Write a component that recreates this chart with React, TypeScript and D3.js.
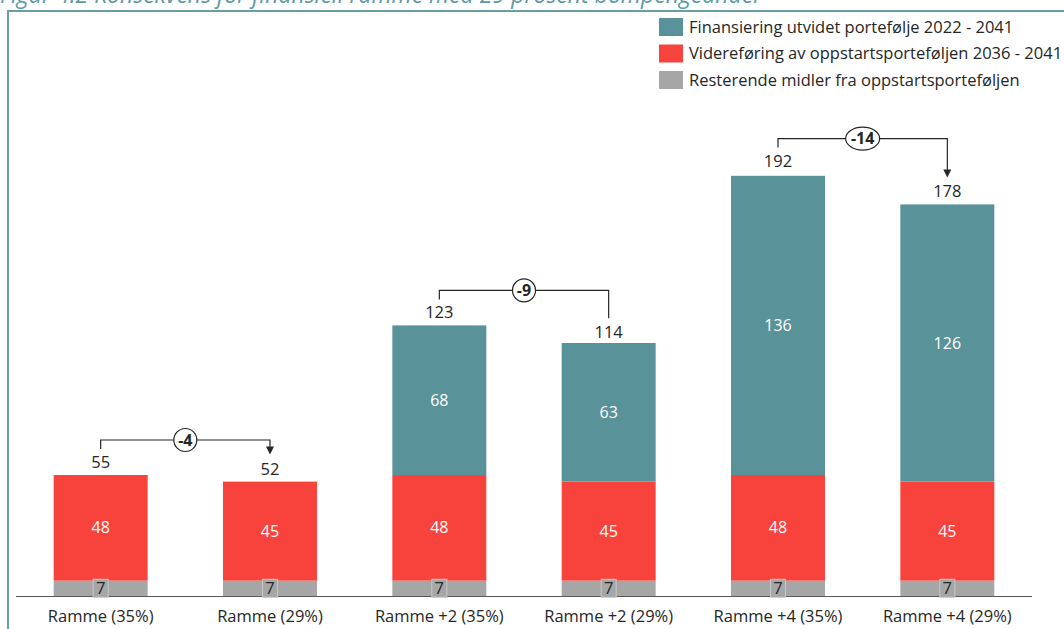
import React from "react";
import * as d3 from "d3";

const categories = [
  "Ramme (35%)",
  "Ramme (29%)",
  "Ramme +2 (35%)",
  "Ramme +2 (29%)",
  "Ramme +4 (35%)",
  "Ramme +4 (29%)",
];
const resterende = [7, 7, 7, 7, 7, 7];
const videreforing = [48, 45, 48, 45, 48, 45];
const finansiering = [0, 0, 68, 63, 136, 126];
const totals = [55, 52, 123, 114, 192, 178];

// pairs of bars compared by a bracket: [from, to, label, arrow]
const diffs: [number, number, string, boolean][] = [
  [0, 1, "-4", true],
  [2, 3, "-9", false],
  [4, 5, "-14", true],
];

const seriesNames = [
  "Finansiering utvidet portefølje 2022 - 2041",
  "Videreføring av oppstartsporteføljen 2036 - 2041",
  "Resterende midler fra oppstartsporteføljen",
];
const colors = ["#5a9299", "#f8433d", "#a6a6a6"];

const title = "Figur 4.2 Konsekvens for finansiell ramme med 29 prosent bompengeandel";

const width = 1064;
const height = 629;
const font = "'Open Sans', sans-serif";

export default function App() {
  const x = d3
    .scaleBand<string>()
    .domain(categories)
    .range([16, 1032])
    .paddingInner(0.445)
    .paddingOuter(0.2225);
  const y = d3.scaleLinear().domain([0, 200]).range([596, 156]);

  const stacks = categories.map((c, i) => {
    const segs = [
      { v: resterende[i], color: colors[2], kind: "grey" },
      { v: videreforing[i], color: colors[1], kind: "red" },
      { v: finansiering[i], color: colors[0], kind: "teal" },
    ];
    let acc = 0;
    return segs.map((s) => {
      const y0 = acc;
      acc += s.v;
      return { ...s, y0, y1: acc };
    });
  });

  const cx = (i: number) => (x(categories[i]) ?? 0) + x.bandwidth() / 2;

  return (
    <svg width={width} height={height} style={{ position: "absolute", left: 0, top: 0 }} fontFamily={font}>
      <rect width={width} height={height} fill="#fff" />
      <text x={0} y={3} fontSize={23} fontStyle="italic" fill="#5d9aa2">
        {title}
      </text>
      <line x1={7} x2={width} y1={11} y2={11} stroke="#6a9ea5" strokeWidth={2} />
      <line x1={8} x2={8} y1={10} y2={height} stroke="#6a9ea5" strokeWidth={2} />

      {/* legend */}
      {seriesNames.map((n, i) => (
        <g key={n} transform={`translate(659, ${18 + i * 26.5})`}>
          <rect width={24} height={18} fill={colors[i]} />
          <text x={30} y={9} dy="0.35em" fontSize={16.5} fill="#262626">
            {n}
          </text>
        </g>
      ))}

      {/* bars */}
      {stacks.map((segs, i) => (
        <g key={categories[i]}>
          {segs
            .filter((s) => s.v > 0)
            .map((s) => (
              <rect
                key={s.kind}
                x={x(categories[i])}
                y={y(s.y1)}
                width={x.bandwidth()}
                height={y(s.y0) - y(s.y1)}
                fill={s.color}
              />
            ))}
        </g>
      ))}

      <line x1={16} x2={1032} y1={y(0) + 0.5} y2={y(0) + 0.5} stroke="#595959" strokeWidth={1.2} />

      {/* segment labels */}
      {stacks.map((segs, i) =>
        segs
          .filter((s) => s.v > 0)
          .map((s) => {
            const my = (y(s.y0) + y(s.y1)) / 2;
            if (s.kind === "grey") {
              return (
                <g key={`l${i}${s.kind}`}>
                  <rect x={cx(i) - 7.5} y={my - 9} width={15} height={18} fill="#a6a6a6" stroke="#c8c8c8" strokeWidth={1} />
                  <text x={cx(i)} y={my} dy="0.35em" textAnchor="middle" fontSize={16.5} fill="#262626">
                    {s.v}
                  </text>
                </g>
              );
            }
            return (
              <text key={`l${i}${s.kind}`} x={cx(i)} y={my} dy="0.35em" textAnchor="middle" fontSize={16} fill="#fff">
                {s.v}
              </text>
            );
          })
      )}

      {/* totals */}
      {totals.map((t, i) => (
        <text key={`t${i}`} x={cx(i)} y={y(t) - 7} textAnchor="middle" fontSize={16.5} fill="#262626">
          {t}
        </text>
      ))}

      {/* difference brackets */}
      {diffs.map(([a, b, label, arrow]) => {
        const top = y(totals[a]) - 35;
        const leftEnd = y(totals[a]) - 26;
        const rightEnd = y(totals[b]) - 27;
        const xa = cx(a);
        const xb = cx(b);
        const mid = (xa + xb) / 2;
        const rx = label.length > 2 ? 17 : 11.5;
        return (
          <g key={label}>
            <path
              d={`M${xa},${leftEnd}V${top}H${xb}V${arrow ? rightEnd - 7 : rightEnd}`}
              fill="none"
              stroke="#262626"
              strokeWidth={1.2}
            />
            {arrow && (
              <path d={`M${xb - 4},${rightEnd - 8}L${xb + 4},${rightEnd - 8}L${xb},${rightEnd}Z`} fill="#262626" />
            )}
            <ellipse cx={mid} cy={top} rx={rx} ry={11.5} fill="#fff" stroke="#262626" strokeWidth={1.2} />
            <text x={mid} y={top} dy="0.35em" textAnchor="middle" fontSize={16} fontWeight="bold" fill="#262626">
              {label}
            </text>
          </g>
        );
      })}

      {/* category labels */}
      {categories.map((c, i) => (
        <text key={c} x={cx(i)} y={616} dy="0.35em" textAnchor="middle" fontSize={16.5} fill="#262626">
          {c}
        </text>
      ))}
    </svg>
  );
}
